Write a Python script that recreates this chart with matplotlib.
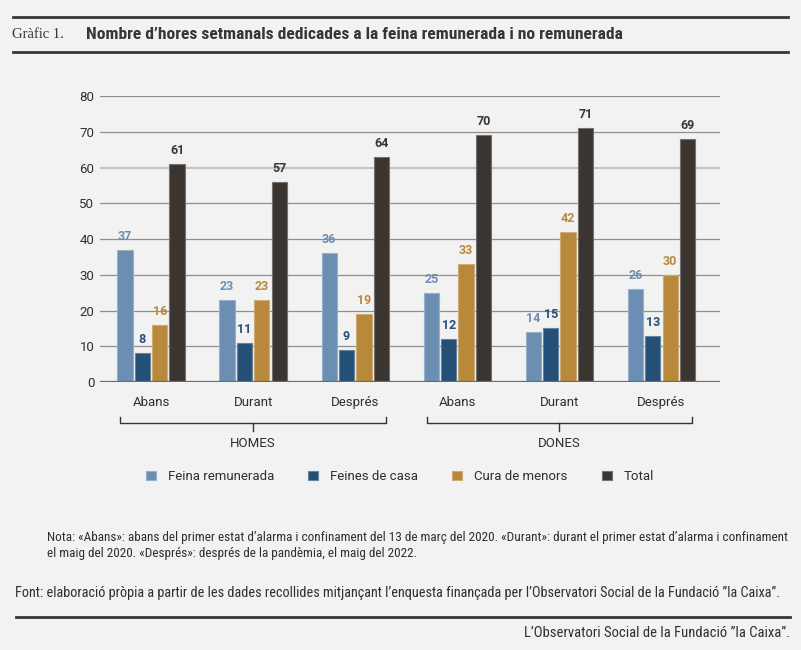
import matplotlib
matplotlib.use('Agg')
import matplotlib.pyplot as plt
import matplotlib.colors as mcolors
from matplotlib import font_manager as fm
from matplotlib.patches import Patch
from matplotlib.lines import Line2D
from matplotlib.transforms import blended_transform_factory
import numpy as np

# data
periods = ['Abans', 'Durant', 'Després', 'Abans', 'Durant', 'Després']
sexes = ['HOMES', 'DONES']
series = ['Feina remunerada', 'Feines de casa', 'Cura de menors', 'Total']
feina = [37, 23, 36, 25, 14, 26]
casa = [8, 11, 9, 12, 15, 13]
menors = [16, 23, 19, 33, 42, 30]
total = [61, 56, 63, 69, 71, 68]          # bar heights as drawn
total_labels = [61, 57, 64, 70, 71, 69]   # printed values
yticks = [0, 10, 20, 30, 40, 50, 60, 70, 80]

title_num = 'Gràfic 1.'
title = 'Nombre d’hores setmanals dedicades a la feina remunerada i no remunerada'
nota1 = ('Nota: «Abans»: abans del primer estat d’alarma i confinament del 13 de març del 2020. '
         '«Durant»: durant el primer estat d’alarma i confinament')
nota2 = 'el maig del 2020. «Després»: després de la pandèmia, el maig del 2022.'
font_src = ('Font: elaboració pròpia a partir de les dades recollides mitjançant l’enquesta '
            'finançada per l’Observatori Social de la Fundació ”la Caixa”.')
credit = 'L’Observatori Social de la Fundació ”la Caixa”.'

colors = ['#6b8eb2', '#244f77', '#b8893a', '#3a3531']
BG = '#f2f2f2'
DARK = '#3a3531'
TXT = '#2f2f2f'

avail = {f.name for f in fm.fontManager.ttflist}


def pick(*names):
    for n in names:
        if n in avail:
            return n
    return 'DejaVu Sans'


SANS = pick('Roboto', 'Liberation Sans')
NARROW = pick('Liberation Sans Narrow', 'Roboto Condensed', 'Roboto')
SERIF = pick('Liberation Serif', 'DejaVu Serif')


def lighten(c, f=0.3):
    r = np.array(mcolors.to_rgb(c))
    return tuple(r + (1 - r) * f)


W, H = 801, 650
fig = plt.figure(figsize=(W / 100, H / 100), dpi=100, facecolor=BG)


def fx(px):
    return px / W


def fy(py):
    return 1 - py / H


y0, y80 = 382, 96
ax = fig.add_axes([fx(100), fy(y0), fx(720) - fx(100), (y0 - y80) / H])
ax.set_facecolor(BG)

x = np.arange(len(periods))
offs = np.array([-1.5, -0.5, 0.5, 1.5]) * 0.17
for vals, labs, off, c in zip([feina, casa, menors, total],
                              [feina, casa, menors, total_labels], offs, colors):
    bars = ax.bar(x + off, vals, 0.15, color=c, edgecolor=lighten(c), linewidth=0.8, zorder=3)
    for b, lab in zip(bars, labs):
        ax.annotate(str(lab), (b.get_x() + b.get_width() / 2, b.get_height()),
                    xytext=(0, 5), textcoords='offset points', ha='center', va='bottom',
                    color=c, fontweight='bold', fontsize=9, family=SANS)

for yv in yticks[1:]:
    if yv == 60:
        ax.axhline(yv, color='#c4c4c4', lw=1.6, zorder=1)
    else:
        ax.axhline(yv, color='#8f8f8f', lw=0.9, zorder=1)
ax.axhline(0, color='#6a6a6a', lw=1.6, zorder=4)

ax.set_ylim(0, 80)
ax.set_xlim(-0.5, 5.573)
ax.set_yticks(yticks)
ax.set_xticks(x, periods)
ax.tick_params(axis='y', length=0, pad=4, labelsize=9.5, labelcolor=TXT)
ax.tick_params(axis='x', length=0, pad=10, labelsize=9.5, labelcolor=TXT)
for lbl in ax.get_xticklabels() + ax.get_yticklabels():
    lbl.set_family(SANS)
for s in ax.spines.values():
    s.set_visible(False)

# group brackets
trans = blended_transform_factory(ax.transData, ax.transAxes)


def ay(py):
    return (y0 - py) / (y0 - y80)


for i, s in enumerate(sexes):
    xa, xb, xc = 3 * i - 0.3, 3 * i + 2.3, 3 * i + 1
    ax.plot([xa, xa, xb, xb], [ay(416.5), ay(423.3), ay(423.3), ay(416.5)],
            transform=trans, clip_on=False, color=DARK, lw=1)
    ax.plot([xc, xc], [ay(423.3), ay(431)], transform=trans, clip_on=False, color=DARK, lw=1)
    ax.text(xc, ay(443.5), s, transform=trans, ha='center', va='center',
            fontsize=9.5, color=TXT, family=SANS)

handles = [Patch(facecolor=c, edgecolor=lighten(c), lw=0.8) for c in colors]
fig.legend(handles, series, loc='center', bbox_to_anchor=(fx(400), fy(476.7)), ncol=4,
           frameon=False, handlelength=0.75, handleheight=0.75, handletextpad=0.9,
           columnspacing=2.6, prop={'family': SANS, 'size': 9.5}, labelcolor=TXT)

# header and footer
for yy, xa, xb in [(17.3, 13, 788), (52.3, 13, 788), (617.3, 16, 790)]:
    fig.add_artist(Line2D([fx(xa), fx(xb)], [fy(yy), fy(yy)], color=DARK, lw=2))

texts = []
texts.append((fig.text(fx(12), fy(34.3), title_num, family=SERIF, fontsize=10.5,
                       color=DARK, va='center'), 52))
texts.append((fig.text(fx(86), fy(34.3), title, family=NARROW, fontweight='bold',
                       fontsize=11, color=DARK, va='center'), 535))
texts.append((fig.text(fx(47), fy(538), nota1, family=NARROW, fontsize=9.5,
                       color=TXT, va='center'), 741))
t2 = fig.text(fx(47), fy(553), nota2, family=NARROW, fontsize=9.5, color=TXT, va='center')
texts.append((fig.text(fx(15), fy(593), font_src, family=NARROW, fontsize=9.5,
                       color=TXT, va='center'), 771))
texts.append((fig.text(fx(790), fy(632.7), credit, family=NARROW, fontsize=9.5,
                       color=TXT, va='center', ha='right'), 265))

fig.canvas.draw()
r = fig.canvas.get_renderer()
for t, w in texts:
    t.set_fontsize(t.get_fontsize() * w / t.get_window_extent(r).width)
t2.set_fontsize(texts[2][0].get_fontsize())

fig.savefig('out.png', dpi=100, facecolor=BG)
